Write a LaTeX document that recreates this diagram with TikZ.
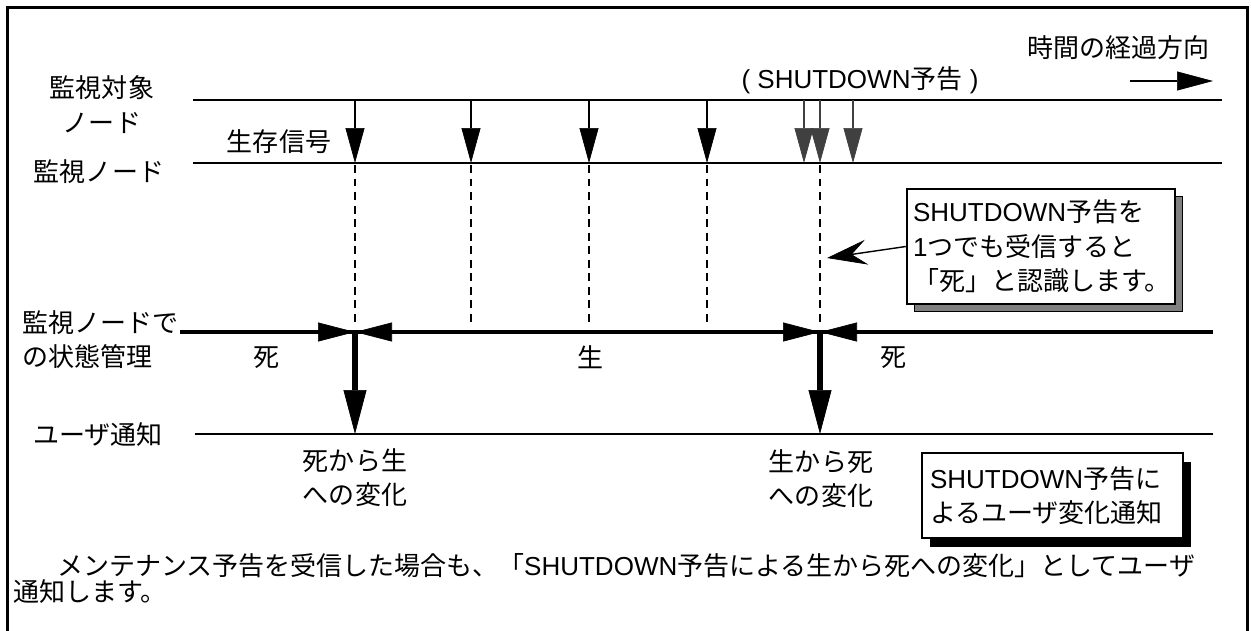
\documentclass[tikz,border=0pt]{standalone}
\usepackage{fontspec}
\newfontfamily\jfont{Noto Sans CJK JP}
\newfontfamily\lfont{Liberation Sans}
\usepackage{xcolor}
\usetikzlibrary{arrows.meta,positioning,shadows,calc}
\definecolor{shadowgray}{HTML}{808080}
\definecolor{sdgray}{HTML}{404040}
\newcommand{\sdw}{{\lfont SHUTDOWN}}
\tikzset{
  jtext/.style={font=\jfont\fontsize{14.8}{19.6}\selectfont,inner sep=0pt,align=center},
  tline/.style={line width=1.3pt},
  sline/.style={line width=2.1pt},
  sig/.style={line width=1pt,-{Triangle[length=0.7cm,width=0.38cm,line width=0.4pt]}},
  sdsig/.style={sig,draw=sdgray},
  vdash/.style={line width=0.9pt,dash pattern=on 4.5pt off 3.2pt},
  meet/.style={-{Triangle[length=0.74cm,width=0.38cm]}},
  notify/.style={line width=3.4pt,-{Triangle[length=0.88cm,width=0.46cm,line width=0.4pt]}},
  ptr/.style={line width=0.8pt,-{Stealth[length=0.8cm,width=0.5cm,inset=0.3cm,line width=0.4pt]}},
  cbox/.style={jtext,draw,line width=1.4pt,fill=white,align=left,inner xsep=0.12cm}
}
\begin{document}
\begin{tikzpicture}
  \useasboundingbox (0,0) rectangle (25.02,-12.6);
  \draw[line width=1.8pt] (0.15,-12.8) -- (0.15,-0.15) -- (24.95,-0.15) -- (24.95,-12.8);
  \coordinate (objL) at (3.86,-2.0);  \coordinate (objR) at (24.44,-2.0);
  \coordinate (monL) at (3.86,-3.26); \coordinate (monR) at (24.44,-3.26);
  \coordinate (stL) at (3.6,-6.64);   \coordinate (stR) at (24.26,-6.64);
  \coordinate (usrL) at (3.9,-8.68);  \coordinate (usrR) at (24.26,-8.68);
  \draw[tline] (objL) -- (objR);
  \draw[tline] (monL) -- (monR);
  \draw[sline] (stL) -- (stR);
  \draw[tline] (usrL) -- (usrR);
  \node[jtext] (dir) at (22.37,-0.96) {時間の経過方向};
  \coordinate (dirA) at (22.6,-1.62); \coordinate (dirB) at (24.26,-1.62);
  \draw[line width=1.5pt,-{Triangle[length=0.72cm,width=0.38cm,line width=0.4pt]}] (dirA) -- (dirB);
  \node[jtext] (sdhead) at (17.2,-1.6) {{\lfont( SHUTDOWN}予告{\lfont\ )}};
  \node[jtext] (obj) at (2.04,-2.09) {監視対象\\ノード};
  \node[jtext] (mon) at (1.98,-3.44) {監視ノード};
  \node[jtext] (hbl) at (5.58,-2.84) {生存信号};
  \node[jtext,align=left,anchor=west] (stm) at (0.44,-6.79) {監視ノードで\\の状態管理};
  \node[jtext] (usr) at (1.96,-8.7) {ユーザ通知};
  \foreach \x [count=\i] in {7.1,9.42,11.78,14.14}{
    \coordinate (hb\i) at (\x,-2.0);
    \draw[sig] (hb\i) -- (hb\i|-monL);
    \draw[vdash] ([yshift=-0.04cm]hb\i|-monL) -- ([yshift=0.1cm]hb\i|-stL);
  }
  \foreach \x [count=\i] in {16.08,16.40,17.06}{
    \coordinate (sd\i) at (\x,-2.0);
    \draw[sdsig] (sd\i) -- (sd\i|-monL);
  }
  \draw[vdash] ([yshift=-0.04cm]sd2|-monL) -- ([yshift=0.1cm]sd2|-stL);
  \foreach \p in {hb1,sd2}{
    \coordinate (m\p) at (\p|-stL);
    \draw[meet] ([xshift=-0.76cm]m\p) -- (m\p);
    \draw[meet] ([xshift=0.76cm]m\p) -- (m\p);
    \draw[notify] (m\p) -- (\p|-usrL);
  }
  \node[jtext] (d1) at (5.34,-7.16) {死};
  \node[jtext] (a1) at (11.8,-7.14) {生};
  \node[jtext] (d2) at (17.86,-7.16) {死};
  \node[jtext] (ch1) at (7.1,-9.55) {死から生\\への変化};
  \node[jtext] (ch2) at (16.42,-9.57) {生から死\\への変化};
  \node[cbox,text width=5.12cm,minimum height=2.3cm,
    drop shadow={shadow xshift=0.14cm,shadow yshift=-0.14cm,fill=shadowgray,draw=black,line width=0.5pt,opacity=1}]
    (note) at (20.82,-4.93) {\sdw 予告を\\{\lfont 1}つでも受信すると\\「死」と認識します。};
  \coordinate (ptip) at (16.54,-5.16);
  \draw[ptr] (note.west) -- (ptip);
  \node[cbox,text width=4.9cm,inner xsep=0.16cm,minimum height=1.7cm,
    drop shadow={shadow xshift=0.16cm,shadow yshift=-0.17cm,fill=black,opacity=1}]
    (sdnote) at (21.05,-9.91) {\sdw 予告に\\よるユーザ変化通知};
  \node[jtext,anchor=west] (memo1) at (1.14,-11.32) {メンテナンス予告を受信した場合も、「\sdw 予告による生から死への変化」としてユーザ};
  \node[jtext,anchor=west] (memo2) at (0.26,-11.84) {通知します。};
\end{tikzpicture}
\end{document}
